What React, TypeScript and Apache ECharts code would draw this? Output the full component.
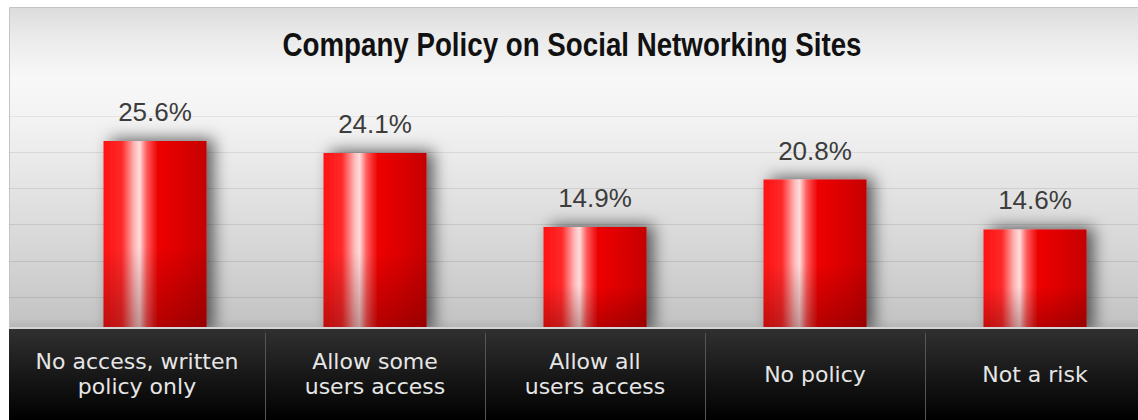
import React, { useEffect, useRef } from "react";
import * as echarts from "echarts";

const categories = [
  "No access, written\npolicy only",
  "Allow some\nusers access",
  "Allow all\nusers access",
  "No policy",
  "Not a risk",
];
const values = [25.6, 24.1, 14.9, 20.8, 14.6];
const titleText = "Company Policy on Social Networking Sites";

const barFill = new echarts.graphic.LinearGradient(0, 0, 1, 0, [
  { offset: 0, color: "#ff1010" },
  { offset: 0.18, color: "#ff2a2a" },
  { offset: 0.3, color: "#ffb8b8" },
  { offset: 0.35, color: "#ffdcdc" },
  { offset: 0.42, color: "#ff5a5a" },
  { offset: 0.52, color: "#ee0606" },
  { offset: 0.8, color: "#d80000" },
  { offset: 1, color: "#c40000" },
]);

const barShade = new echarts.graphic.LinearGradient(0, 0, 0, 1, [
  { offset: 0, color: "rgba(60,0,0,0)" },
  { offset: 0.55, color: "rgba(60,0,0,0)" },
  { offset: 1, color: "rgba(60,0,0,0.35)" },
]);

export default function App() {
  const ref = useRef<HTMLDivElement>(null);
  useEffect(() => {
    document.body.style.margin = "0";
    const chart = echarts.init(ref.current!, null, { renderer: "svg" });
    const gridColors = [
      "rgba(0,0,0,0)",
      "rgba(0,0,0,0.09)",
      "rgba(0,0,0,0.09)",
      "rgba(0,0,0,0.09)",
      "rgba(0,0,0,0.09)",
      "rgba(0,0,0,0.08)",
      "rgba(0,0,0,0.06)",
      "rgba(0,0,0,0)",
      "rgba(0,0,0,0)",
      "rgba(0,0,0,0)",
    ];
    const labelFont = "DejaVu Sans";
    chart.setOption({
      animation: false,
      graphic: [
        {
          type: "rect",
          z: -10,
          shape: { x: 9.5, y: 7.5, width: 1140, height: 321 },
          style: {
            fill: new echarts.graphic.LinearGradient(0, 0, 0, 1, [
              { offset: 0, color: "#dcdcdc" },
              { offset: 0.08, color: "#e9e9e9" },
              { offset: 0.22, color: "#f8f8f8" },
              { offset: 0.36, color: "#f2f2f2" },
              { offset: 0.6, color: "#e1e1e1" },
              { offset: 0.85, color: "#cfcfcf" },
              { offset: 0.97, color: "#c4c4c4" },
              { offset: 1, color: "#b4b4b4" },
            ]),
            stroke: "#c4c4c4",
            lineWidth: 1,
          },
        },
        {
          type: "rect",
          z: 100,
          shape: { x: 9, y: 327, width: 1129, height: 2 },
          style: { fill: "#d4d4d4" },
        },
        {
          type: "rect",
          z: 100,
          shape: { x: 9, y: 329, width: 1129, height: 91 },
          style: {
            fill: new echarts.graphic.LinearGradient(0, 0, 0, 1, [
              { offset: 0, color: "#303030" },
              { offset: 0.5, color: "#181818" },
              { offset: 1, color: "#000000" },
            ]),
          },
        },
        {
          type: "text",
          z: 200,
          x: 572,
          y: 44,
          scaleX: 0.84,
          style: {
            text: titleText,
            font: 'bold 33px "Liberation Sans"',
            fill: "#111111",
            align: "center",
            verticalAlign: "middle",
          },
        },
      ],
      grid: [
        { left: 9, right: 0, top: 8, height: 325, outerBoundsMode: "none", containLabel: false },
        { left: 45, width: 1100, top: 8, height: 325, outerBoundsMode: "none", containLabel: false },
      ],
      xAxis: [
        { gridIndex: 0, type: "value", show: false, min: 0, max: 1 },
        {
          gridIndex: 1,
          type: "category",
          data: categories,
          z: 200,
          axisLine: { show: false },
          axisTick: {
            show: true,
            length: 88,
            interval: (i: number) => i !== 0,
            lineStyle: { color: "#555555", width: 1 },
          },
          axisLabel: {
            interval: 0,
            margin: 41,
            verticalAlign: "middle",
            fontFamily: labelFont,
            fontSize: 22,
            lineHeight: 25,
            color: "#e6e6e6",
            formatter: (v: string, i: number) =>
              i === 0
                ? v
                    .split("\n")
                    .map((l) => `{s|${l}}`)
                    .join("\n")
                : v,
            rich: {
              s: {
                fontFamily: labelFont,
                fontSize: 22,
                lineHeight: 25,
                color: "#e6e6e6",
                padding: [0, 36, 0, 0],
              },
            },
          },
        },
      ],
      yAxis: [
        {
          gridIndex: 0,
          type: "value",
          min: 0,
          max: 9,
          interval: 1,
          axisLine: { show: false },
          axisTick: { show: false },
          axisLabel: { show: false },
          splitLine: { show: true, lineStyle: { color: gridColors, width: 1 } },
        },
        {
          gridIndex: 1,
          type: "value",
          min: 1.74,
          max: 42.11,
          show: false,
          splitLine: { show: false },
        },
      ],
      series: [
        {
          type: "bar",
          xAxisIndex: 1,
          yAxisIndex: 1,
          data: values,
          barWidth: 103,
          itemStyle: {
            color: barFill,
            shadowBlur: 16,
            shadowColor: "rgba(0,0,0,0.6)",
            shadowOffsetX: 7,
            shadowOffsetY: -2,
          },
          label: {
            show: true,
            position: "top",
            distance: 16,
            formatter: "{c}%",
            fontFamily: "Liberation Sans",
            fontSize: 26,
            color: "#3c3c3c",
          },
        },
        {
          type: "bar",
          xAxisIndex: 1,
          yAxisIndex: 1,
          data: values,
          barWidth: 103,
          barGap: "-100%",
          silent: true,
          itemStyle: { color: barShade },
        },
      ],
    });
    return () => chart.dispose();
  }, []);
  return (
    <div
      ref={ref}
      style={{ position: "absolute", left: 0, top: 0, width: 1138, height: 420 }}
    />
  );
}
